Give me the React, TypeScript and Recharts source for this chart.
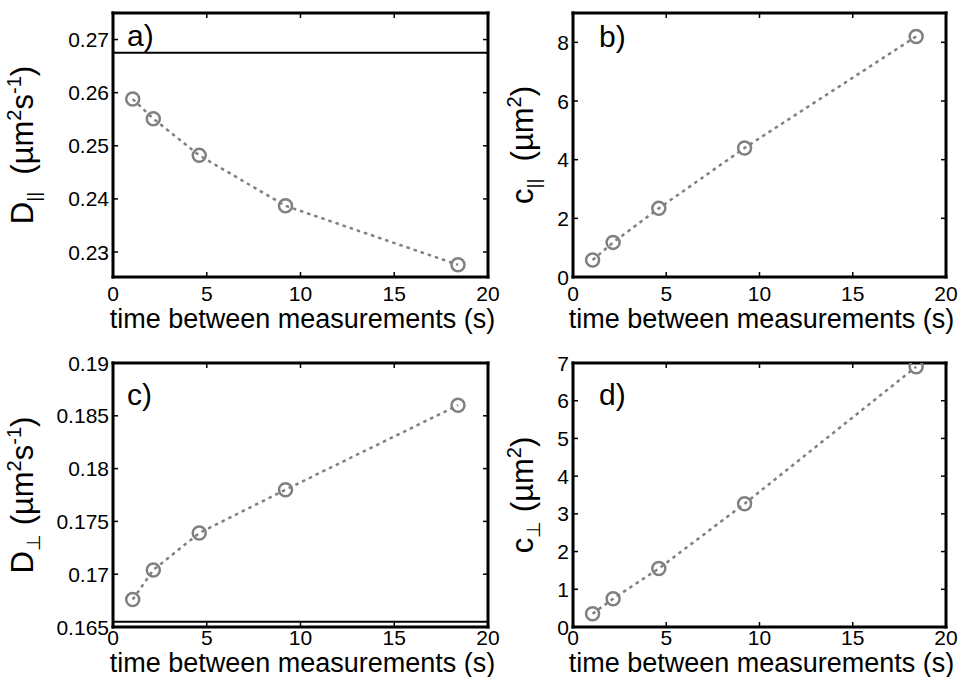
import React from 'react';
import { LineChart, Line, XAxis, YAxis, ReferenceLine } from 'recharts';

// time between measurements (s)
const times = [1.05, 2.15, 4.6, 9.2, 18.4];

// series values
const dPar = [0.2588, 0.2551, 0.2482, 0.2387, 0.2276];
const cPar = [0.58, 1.18, 2.34, 4.4, 8.2];
const dPerp = [0.1676, 0.1704, 0.1739, 0.178, 0.186];
const cPerp = [0.35, 0.75, 1.55, 3.27, 6.9];

// tick labels
const xTicks = [0, 5, 10, 15, 20];
const dParTicks = [0.23, 0.24, 0.25, 0.26, 0.27];
const cParTicks = [0, 2, 4, 6, 8];
const dPerpTicks = [0.165, 0.17, 0.175, 0.18, 0.185, 0.19];
const cPerpTicks = [0, 1, 2, 3, 4, 5, 6, 7];

// horizontal reference levels
const dParLimit = 0.2675;
const dPerpLimit = 0.1655;

const FONT = '"Liberation Sans", Arial, Helvetica, sans-serif';
const GREY = '#808080';
const TICK_FS = 21;
const TICK_LEN = 5;

// matlab style: ticks point inwards on all four sides
const BottomTick = (m: number) => (props: any) => {
  const { x, y, payload } = props;
  return (
    <g>
      <line x1={x} x2={x} y1={y - m} y2={y - m - TICK_LEN} stroke="#000" strokeWidth={1.5} />
      <text x={x} y={y + 0.716 * TICK_FS} textAnchor="middle" fontSize={TICK_FS} fontFamily={FONT} fill="#000">
        {String(payload.value)}
      </text>
    </g>
  );
};

const LeftTick = (m: number) => (props: any) => {
  const { x, y, payload } = props;
  return (
    <g>
      <line x1={x + m} x2={x + m + TICK_LEN} y1={y} y2={y} stroke="#000" strokeWidth={1.5} />
      <text x={x} y={y + 0.36 * TICK_FS} textAnchor="end" fontSize={TICK_FS} fontFamily={FONT} fill="#000">
        {String(payload.value)}
      </text>
    </g>
  );
};

const TopTick = (props: any) => (
  <line x1={props.x} x2={props.x} y1={props.y} y2={props.y + TICK_LEN} stroke="#000" strokeWidth={1.5} />
);

const RightTick = (props: any) => (
  <line x1={props.x} x2={props.x - TICK_LEN} y1={props.y} y2={props.y} stroke="#000" strokeWidth={1.5} />
);

type YLabel = { main: string; sub: string; gap: string; unitSup: string[] };

type PanelProps = {
  left: number;
  top: number;
  width: number;
  height: number;
  plot: { l: number; r: number; t: number; b: number };
  values: number[];
  yDomain: [number, number];
  yTicks: number[];
  limit?: number;
  letter: string;
  letterPos: [number, number];
  ylabel: YLabel;
  xTickMargin: number;
  xLabelY: number;
};

function Panel(p: PanelProps) {
  const data = times.map((t, i) => ({ t, v: p.values[i] }));
  const cx = (p.plot.l + p.plot.r) / 2;
  const cy = (p.plot.t + p.plot.b) / 2;
  const frame = { stroke: '#000', strokeWidth: 3, strokeLinecap: 'square' as const };
  const lx = 33;
  const yMargin = 4;
  return (
    <div style={{ position: 'absolute', left: p.left, top: p.top, width: p.width, height: p.height }}>
      <LineChart
        width={p.width}
        height={p.height}
        data={data}
        margin={{ top: p.plot.t - 1, right: p.width - p.plot.r - 1, bottom: 0, left: 0 }}
      >
        <XAxis
          dataKey="t"
          type="number"
          domain={[0, 20]}
          ticks={xTicks}
          height={p.height - p.plot.b}
          axisLine={frame}
          tickLine={false}
          tickSize={0}
          tickMargin={p.xTickMargin}
          tick={BottomTick(p.xTickMargin)}
          interval={0}
        />
        <XAxis
          xAxisId="top"
          orientation="top"
          dataKey="t"
          type="number"
          domain={[0, 20]}
          ticks={xTicks}
          height={1}
          axisLine={frame}
          tickLine={false}
          tickSize={0}
          tickMargin={0}
          tick={TopTick}
          interval={0}
        />
        <YAxis
          type="number"
          domain={p.yDomain}
          ticks={p.yTicks}
          width={p.plot.l}
          axisLine={frame}
          tickLine={false}
          tickSize={0}
          tickMargin={yMargin}
          tick={LeftTick(yMargin)}
          interval={0}
          allowDataOverflow
        />
        <YAxis
          yAxisId="right"
          orientation="right"
          type="number"
          domain={p.yDomain}
          ticks={p.yTicks}
          width={1}
          axisLine={frame}
          tickLine={false}
          tickSize={0}
          tickMargin={0}
          tick={RightTick}
          interval={0}
          allowDataOverflow
        />
        {p.limit !== undefined && (
          <ReferenceLine y={p.limit} stroke="#000" strokeWidth={2} />
        )}
        <Line
          type="linear"
          dataKey="v"
          stroke={GREY}
          strokeWidth={2.5}
          strokeDasharray="3.5 4"
          dot={{ r: 6.5, stroke: GREY, strokeWidth: 2.5, fill: 'none', strokeDasharray: '' }}
          isAnimationActive={false}
        />
        <text x={p.letterPos[0]} y={p.letterPos[1]} fontSize={30} fontFamily={FONT} fill="#000">
          {p.letter}
        </text>
        <text
          x={cx + 2}
          y={p.xLabelY}
          textAnchor="middle"
          fontSize={27}
          fontFamily={FONT}
          fill="#000"
        >
          time between measurements (s)
        </text>
        <text
          x={lx}
          y={cy}
          transform={`rotate(-90 ${lx} ${cy})`}
          textAnchor="middle"
          fontSize={31}
          fontFamily={FONT}
          fill="#000"
        >
          <tspan>{p.ylabel.main}</tspan>
          <tspan fontSize={19} dy={7}>{p.ylabel.sub}</tspan>
          <tspan dy={-7}>{p.ylabel.gap + '(µm'}</tspan>
          <tspan fontSize={20} dy={-12}>{p.ylabel.unitSup[0]}</tspan>
          {p.ylabel.unitSup.length > 1 ? (
            <>
              <tspan dy={12}>s</tspan>
              <tspan fontSize={20} dy={-12}>{p.ylabel.unitSup[1]}</tspan>
              <tspan dy={12}>)</tspan>
            </>
          ) : (
            <tspan dy={12}>)</tspan>
          )}
        </text>
      </LineChart>
    </div>
  );
}

export default function App() {
  return (
    <div style={{ position: 'absolute', left: 0, top: 0, width: 959, height: 677, background: '#fff' }}>
      <Panel
        left={0}
        top={0}
        width={500}
        height={340}
        plot={{ l: 113, r: 488, t: 13, b: 277 }}
        values={dPar}
        yDomain={[0.2253, 0.275]}
        yTicks={dParTicks}
        limit={dParLimit}
        letter="a)"
        letterPos={[127, 46]}
        ylabel={{ main: 'D', sub: '||', gap: '\u00a0\u00a0', unitSup: ['2', '-1'] }}
        xTickMargin={9}
        xLabelY={328}
      />
      <Panel
        left={500}
        top={0}
        width={459}
        height={340}
        plot={{ l: 73, r: 446, t: 13, b: 277 }}
        values={cPar}
        yDomain={[0, 9]}
        yTicks={cParTicks}
        letter="b)"
        letterPos={[99, 47]}
        ylabel={{ main: 'c', sub: '||', gap: '\u00a0\u00a0', unitSup: ['2'] }}
        xTickMargin={9}
        xLabelY={328}
      />
      <Panel
        left={0}
        top={340}
        width={500}
        height={337}
        plot={{ l: 113, r: 488, t: 23, b: 287 }}
        values={dPerp}
        yDomain={[0.165, 0.19]}
        yTicks={dPerpTicks}
        limit={dPerpLimit}
        letter="c)"
        letterPos={[127, 65]}
        ylabel={{ main: 'D', sub: '⊥', gap: '\u00a0', unitSup: ['2', '-1'] }}
        xTickMargin={3}
        xLabelY={332}
      />
      <Panel
        left={500}
        top={340}
        width={459}
        height={337}
        plot={{ l: 73, r: 446, t: 23, b: 287 }}
        values={cPerp}
        yDomain={[0, 7]}
        yTicks={cPerpTicks}
        letter="d)"
        letterPos={[99, 65]}
        ylabel={{ main: 'c', sub: '⊥', gap: '\u00a0', unitSup: ['2'] }}
        xTickMargin={3}
        xLabelY={332}
      />
    </div>
  );
}
